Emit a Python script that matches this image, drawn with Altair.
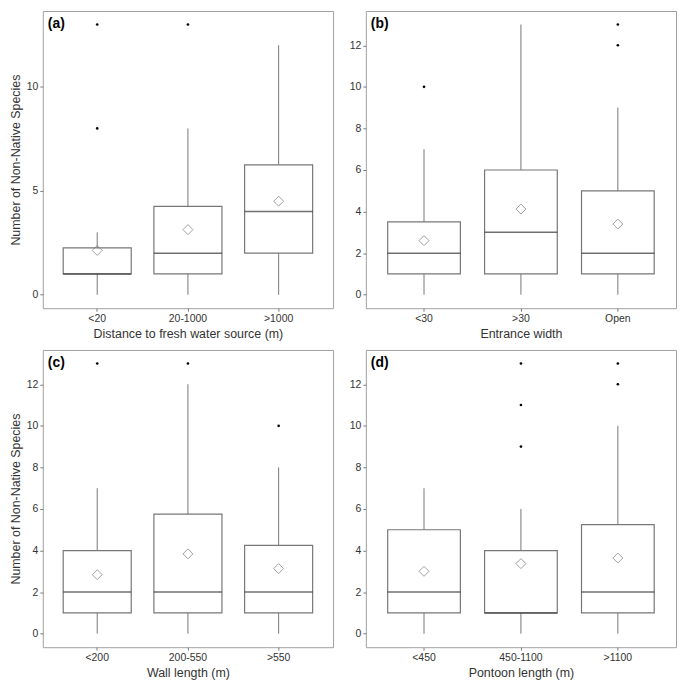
import altair as alt
import pandas as pd

FONT = "Liberation Sans"

panel_labels = ["(a)", "(b)", "(c)", "(d)"]
x_titles = [
    "Distance to fresh water source (m)",
    "Entrance width",
    "Wall length (m)",
    "Pontoon length (m)",
]
y_title = "Number of Non-Native Species"

cats = [
    ["<20", "20-1000", ">1000"],
    ["<30", ">30", "Open"],
    ["<200", "200-550", ">550"],
    ["<450", "450-1100", ">1100"],
]
whisk_lo = [[0, 0, 0], [0, 0, 0], [0, 0, 0], [0, 0, 0]]
q1 = [[1, 1, 2], [1, 1, 1], [1, 1, 1], [1, 1, 1]]
medians = [[1, 2, 4], [2, 3, 2], [2, 2, 2], [2, 1, 2]]
q3 = [[2.25, 4.25, 6.25], [3.5, 6, 5], [4, 5.75, 4.25], [5, 4, 5.25]]
whisk_hi = [[3, 8, 12], [7, 13, 9], [7, 12, 8], [7, 6, 10]]
means = [[2.13, 3.13, 4.5], [2.6, 4.12, 3.4], [2.84, 3.84, 3.13], [3.0, 3.37, 3.64]]

out_cat = [
    ["<20", "<20", "20-1000"],
    ["<30", "Open", "Open"],
    ["<200", "200-550", ">550"],
    ["450-1100", "450-1100", "450-1100", ">1100", ">1100"],
]
out_val = [
    [8, 13, 13],
    [10, 12, 13],
    [13, 13, 10],
    [9, 11, 13, 12, 13],
]

y_ticks = [[0, 5, 10], [0, 2, 4, 6, 8, 10, 12], [0, 2, 4, 6, 8, 10, 12], [0, 2, 4, 6, 8, 10, 12]]

BOX_GREY = "#777777"
MED_COL = "#333333"


def make_panel(i, width, height, show_ytitle):
    df = pd.DataFrame({
        "cat": cats[i],
        "lo": whisk_lo[i],
        "q1": q1[i],
        "med": medians[i],
        "q3": q3[i],
        "hi": whisk_hi[i],
        "mean": means[i],
    })
    odf = pd.DataFrame({"cat": out_cat[i], "val": out_val[i]})
    ldf = pd.DataFrame({"label": [panel_labels[i]]})

    xscale = alt.Scale(domain=cats[i], paddingInner=0.25, paddingOuter=0.225)
    yscale = alt.Scale(domain=[-0.65, 13.65], nice=False, zero=False)
    xaxis = alt.Axis(title=x_titles[i], labelAngle=0, grid=False, domain=False)
    yaxis = alt.Axis(values=y_ticks[i], title=y_title if show_ytitle else None,
                     grid=False, domain=False)

    x = alt.X("cat:N", scale=xscale, axis=xaxis)
    bandwidth = 0.75 * width / 3.2

    base = alt.Chart(df)
    whisk = base.mark_rule(color=BOX_GREY, strokeWidth=1).encode(
        x=x, y=alt.Y("lo:Q", scale=yscale, axis=yaxis), y2="hi:Q")
    box = base.mark_bar(fill="white", stroke=BOX_GREY, strokeWidth=1.2).encode(
        x=x, y=alt.Y("q1:Q"), y2="q3:Q")
    med = base.mark_tick(size=bandwidth, thickness=1.5, color=MED_COL).encode(
        x=x, y=alt.Y("med:Q"))
    mean = base.mark_point(shape="diamond", size=100, filled=False,
                           color=BOX_GREY, strokeWidth=1).encode(
        x=x, y=alt.Y("mean:Q"))
    outl = alt.Chart(odf).mark_point(shape="circle", filled=True, size=7,
                                     color="black", opacity=1).encode(
        x=alt.X("cat:N", scale=xscale, axis=xaxis), y=alt.Y("val:Q"))
    lab = alt.Chart(ldf).mark_text(align="left", baseline="middle", fontWeight="bold",
                                   fontSize=14, font=FONT, color="black").encode(
        x=alt.value(5), y=alt.value(13), text="label:N")

    return alt.layer(whisk, box, med, mean, outl, lab).properties(width=width, height=height)


W_LEFT = 292
W_RIGHT = 312
H = 299

top = alt.hconcat(make_panel(0, W_LEFT, H, True), make_panel(1, W_RIGHT, H, False), spacing=14)
bottom = alt.hconcat(make_panel(2, W_LEFT, H, True), make_panel(3, W_RIGHT, H, False), spacing=14)

chart = alt.vconcat(top, bottom, spacing=8).properties(
    padding={"left": 0, "top": 0, "right": 0, "bottom": 0}
).configure(font=FONT).configure_view(
    stroke="#a0a0a0", strokeWidth=1
).configure_axis(
    labelFont=FONT, titleFont=FONT, labelFontSize=10.5, titleFontSize=12.5,
    labelColor="#333333", titleColor="#333333", tickColor="#7a7a7a", tickSize=3,
    labelPadding=2, titlePadding=4, titleFontWeight="normal"
)

chart.save("out.html", embed_options={"renderer": "svg", "actions": False})
